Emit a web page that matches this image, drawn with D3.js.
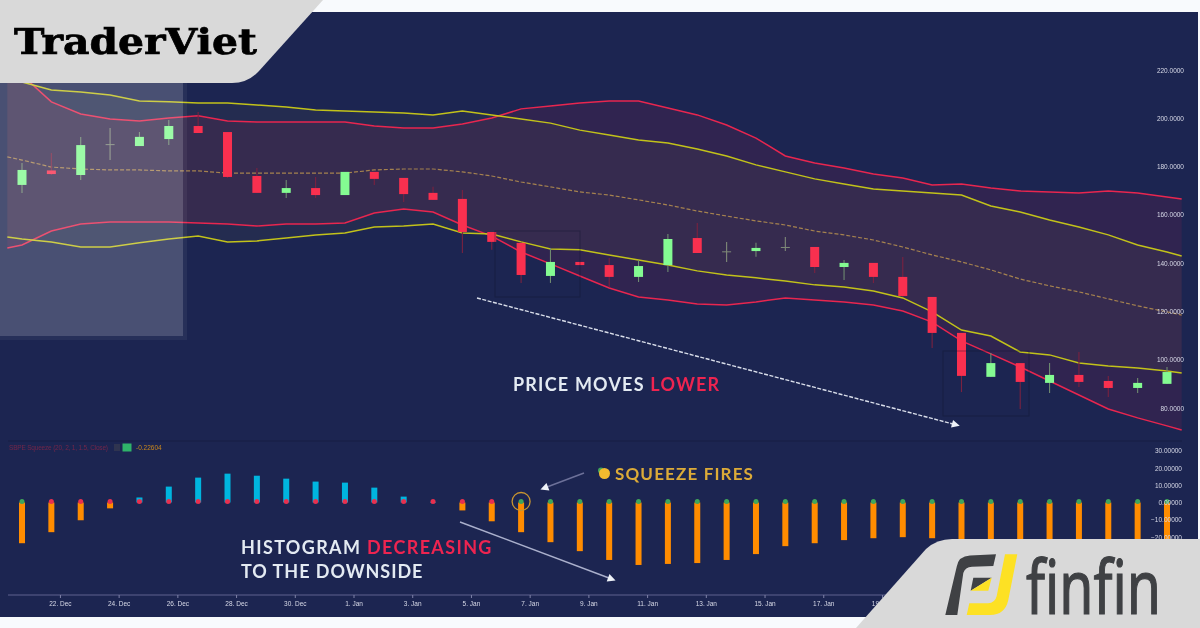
<!DOCTYPE html>
<html>
<head>
<meta charset="utf-8">
<script src="https://cdn.jsdelivr.net/npm/d3@7"></script>
<style>
  html, body { margin: 0; padding: 0; background: #f8fafd; overflow: hidden; }
  svg { display: block; }
  .soft { filter: blur(0.55px); }
  .softer { filter: blur(0.35px); }
  .note { font-family: Lato, "Open Sans", sans-serif; font-weight: 700; }
</style>
</head>
<body>
<svg id="chart" width="1200" height="628"></svg>
<script>
// Candles, one per day
const candleStart = "2020-12-20T17:00:00Z";
const opens = [172.4,178.4,176.5,188.9,188.5,191.4,196.8,194.3,176.1,169.1,171.1,168.2,177.8,175.3,169.1,166.6,152.9,148.4,134.7,140.5,139.2,134.3,139.2,150.4,144.6,145.0,146.5,146.7,138.4,140.1,134.3,126.0,111.1,92.9,98.6,90.4,93.7,91.2,88.3,90.0];
const highs = [181.5,185.6,192.3,196.0,194.3,199.3,202.6,194.3,179.4,174.4,175.7,177.8,177.8,175.3,171.6,170.3,152.9,148.4,146.3,140.5,142.1,141.3,152.1,156.6,148.8,148.4,150.8,146.7,141.3,140.1,142.5,126.0,111.1,102.8,98.6,98.6,103.2,93.3,92.4,97.0];
const lows = [169.1,176.5,174.4,182.7,188.5,188.9,193.9,175.3,169.1,167.0,167.0,168.2,172.4,165.3,166.2,144.2,145.5,131.8,131.8,139.2,130.1,132.2,136.3,144.2,140.5,142.6,145.0,135.9,133.0,131.8,126.0,104.9,86.6,92.9,79.6,86.2,88.7,84.6,86.2,90.0];
const closes = [178.6,176.9,188.9,189.3,192.3,196.8,193.9,175.7,169.1,171.1,168.2,177.8,174.9,168.6,166.2,152.9,148.8,135.1,140.5,139.2,134.3,138.8,150.0,144.2,144.9,146.3,146.7,138.4,140.1,134.3,126.4,111.1,93.3,98.6,90.8,93.7,90.8,88.3,90.4,94.9];

// Bands, read at half a day before the first candle, every candle, half a day after the last
const bbUpper = [223.3,217.9,206.8,201.8,199.7,198.9,200.1,201.0,198.9,198.5,198.5,198.5,198.5,196.8,196.0,196.0,197.6,200.1,203.9,205.1,206.3,207.2,207.2,204.3,201.4,197.2,191.8,184.4,181.5,179.4,176.9,175.3,172.4,172.8,171.1,169.9,169.5,169.1,169.9,169.1,167.4,166.6];
const bbLower = [146.3,147.5,153.3,156.2,157.0,157.0,157.0,156.6,156.2,155.4,156.2,156.2,156.6,160.8,162.4,161.2,155.8,151.2,144.6,139.7,134.7,129.7,126.0,124.7,123.1,122.7,123.9,125.6,124.7,123.9,122.7,120.2,115.6,107.8,102.4,97.0,91.2,85.4,79.6,75.9,72.6,70.9];
const kcUpper = [217.1,215.0,211.7,210.9,209.6,207.2,206.8,206.3,206.3,205.5,204.7,203.4,203.0,202.6,202.2,201.4,203.0,201.4,199.7,198.0,195.1,193.1,191.0,189.8,187.3,184.4,180.7,177.8,174.9,172.8,170.7,169.9,169.1,168.2,163.7,161.2,157.9,155.0,151.7,147.5,144.6,143.0];
const kcLower = [150.8,150.0,148.8,146.7,146.7,148.4,150.0,151.2,148.8,149.2,150.4,151.7,152.5,155.0,155.4,156.2,152.5,152.1,148.8,145.9,145.5,143.4,141.3,139.2,136.8,135.1,133.9,132.6,131.0,130.1,128.5,125.6,119.8,112.3,109.8,103.2,102.0,98.6,97.4,96.6,95.3,94.5];
const basis = [184.0,182.7,179.8,179.0,178.6,178.6,178.2,178.2,177.3,177.3,177.3,177.3,177.3,178.6,179.0,179.0,177.8,176.1,173.6,171.6,169.5,168.2,166.2,164.1,161.6,159.5,157.5,155.8,153.3,151.7,149.6,146.7,143.4,140.5,137.2,133.4,130.6,128.1,125.2,122.3,119.8,118.5];

// Squeeze histogram and on/off dots (1 = fired, green)
const histogram = [-23.6,-17.2,-10.3,-3.4,2.9,9.2,14.4,16.7,15.5,13.8,12.1,11.5,8.6,3.4,0.3,-4.6,-10.9,-17.2,-23.0,-28.2,-33.3,-36.2,-35.6,-35.1,-33.3,-29.9,-25.3,-23.6,-21.8,-20.7,-20.1,-20.7,-22,-22,-23,-24,-24,-25,-25,-25];
const squeezeFired = [1,0,0,0,0,0,0,0,0,0,0,0,0,0,0,0,0,1,1,1,1,1,1,1,1,1,1,1,1,1,1,1,1,1,1,1,1,1,1,1];

const priceTicks = [220,200,180,160,140,120,100,80];
const histTicks = [30,20,10,0,-10,-20];
const dateTicks = ["2020-12-22","2020-12-24","2020-12-26","2020-12-28","2020-12-30","2021-01-01","2021-01-03","2021-01-05","2021-01-07","2021-01-09","2021-01-11","2021-01-13","2021-01-15","2021-01-17","2021-01-19"];

const dayMs = 864e5;
const t0 = new Date(candleStart).getTime();
const timeAt = d => new Date(t0 + d * dayMs);

const x = d3.scaleUtc().domain([timeAt(0), timeAt(39)]).range([22, 1167]);
const y = d3.scaleLinear().domain([220, 80]).range([70, 408]);
const yHist = d3.scaleLinear().domain([30, -20]).range([450.7, 537]);

const svg = d3.select("#chart");

// Panel
svg.append("rect").attr("x", 0).attr("y", 12).attr("width", 1198).attr("height", 605).attr("fill", "#1c2551");

const chart = svg.append("g").attr("class", "soft");

// Bands
const bandDays = [-0.5].concat(d3.range(40), [39.5]);
const bandX = i => x(timeAt(bandDays[i]));

const bandArea = (top, bottom) => d3.area()
  .x((d, i) => bandX(i))
  .y0((d, i) => y(bottom[i]))
  .y1((d, i) => y(top[i]));
const bandLine = d3.line().x((d, i) => bandX(i)).y(d => y(d));

chart.append("path").attr("d", bandArea(bbUpper, bbLower)(bandDays))
  .attr("fill", "#e0204f").attr("opacity", 0.1);
chart.append("path").attr("d", bandArea(kcUpper, kcLower)(bandDays))
  .attr("fill", "#b8b840").attr("opacity", 0.055);

[bbUpper, bbLower].forEach(s => chart.append("path").attr("d", bandLine(s))
  .attr("fill", "none").attr("stroke", "#e8264f").attr("stroke-width", 1.5));
[kcUpper, kcLower].forEach(s => chart.append("path").attr("d", bandLine(s))
  .attr("fill", "none").attr("stroke", "#c2c21a").attr("stroke-width", 1.5));
chart.append("path").attr("d", bandLine(basis))
  .attr("fill", "none").attr("stroke", "#a5824f").attr("stroke-width", 1.2).attr("stroke-dasharray", "4 2");

// Candles
const candleWidth = 9;
const isDoji = i => Math.abs(closes[i] - opens[i]) < 0.5;
const candles = chart.append("g").selectAll("g")
  .data(d3.range(opens.length))
  .join("g");

candles.append("line")
  .attr("x1", i => x(timeAt(i))).attr("x2", i => x(timeAt(i)))
  .attr("y1", i => y(highs[i])).attr("y2", i => y(lows[i]))
  .attr("stroke", i => isDoji(i) ? "#7f8a78" : closes[i] >= opens[i] ? "#6f8a70" : "#7a2240")
  .attr("stroke-width", 1.1);

candles.append("rect")
  .attr("x", i => x(timeAt(i)) - candleWidth / 2)
  .attr("width", candleWidth)
  .attr("y", i => y(Math.max(opens[i], closes[i])))
  .attr("height", i => Math.max(1, Math.abs(y(opens[i]) - y(closes[i]))))
  .attr("fill", i => isDoji(i) ? "#7f8a78" : closes[i] >= opens[i] ? "#84fb92" : "#f9304f");

// Selection boxes on the chart
[[495, 231, 85, 66], [943, 351, 86, 65]].forEach(b => chart.append("rect")
  .attr("x", b[0]).attr("y", b[1]).attr("width", b[2]).attr("height", b[3])
  .attr("fill", "none").attr("stroke", "#10152f").attr("stroke-opacity", 0.4));

// Price axis
const priceAxis = chart.append("g").attr("transform", "translate(1184,0)")
  .call(d3.axisLeft(y).tickValues(priceTicks).tickFormat(d3.format(".4f")).tickSize(0).tickPadding(0));
priceAxis.select(".domain").remove();

// Divider above the histogram
chart.append("line").attr("x1", 8).attr("x2", 1182).attr("y1", 441).attr("y2", 441)
  .attr("stroke", "#141a3d").attr("stroke-width", 1.2).attr("stroke-opacity", 0.6);

// Histogram
chart.append("g").selectAll("rect")
  .data(histogram)
  .join("rect")
  .attr("x", (d, i) => x(timeAt(i)) - 3)
  .attr("width", 6)
  .attr("y", d => Math.min(yHist(d), yHist(0)))
  .attr("height", d => Math.abs(yHist(d) - yHist(0)))
  .attr("fill", d => d >= 0 ? "#00b5df" : "#ff8c00");

chart.append("g").selectAll("circle")
  .data(squeezeFired)
  .join("circle")
  .attr("cx", (d, i) => x(timeAt(i)))
  .attr("cy", yHist(0) - 1)
  .attr("r", 2.5)
  .attr("fill", d => d ? "#3fa65a" : "#e8304f");

const histAxis = chart.append("g").attr("transform", "translate(1182,0)")
  .call(d3.axisLeft(yHist).tickValues(histTicks).tickFormat(d3.format(".5f")).tickSize(0).tickPadding(0));
histAxis.select(".domain").remove();

// Time axis
const timeAxis = chart.append("g").attr("transform", "translate(0,595)")
  .call(d3.axisBottom(x).tickValues(dateTicks.map(d => new Date(d)))
    .tickFormat(d3.utcFormat("%-d. %b")).tickSize(3).tickPadding(3));
timeAxis.select(".domain").attr("d", "M8,0H1182").attr("stroke", "#5f628f");
timeAxis.selectAll(".tick line").attr("stroke", "#7f82a8");

chart.selectAll(".tick text")
  .attr("fill", "#d8dae8").attr("font-size", 6.5).attr("font-family", "Liberation Sans, sans-serif");

// Indicator legend
const legend = chart.append("g").attr("font-family", "Liberation Sans, sans-serif").attr("font-size", 6.5);
legend.append("text").attr("x", 9).attr("y", 449.5).attr("textLength", 99).attr("fill", "#73264a").text("SBPE Squeeze (20, 2, 1, 1.5, Close)");
legend.append("rect").attr("x", 114).attr("y", 444).attr("width", 6).attr("height", 7).attr("fill", "#2f3450");
legend.append("rect").attr("x", 122.5).attr("y", 443.5).attr("width", 9).attr("height", 8).attr("fill", "#2fb36a");
legend.append("text").attr("x", 136).attr("y", 449.5).attr("fill", "#c9871c").text("-0.22604");

// Overlay on the first candles
svg.append("rect").attr("x", 0).attr("y", 12).attr("width", 187).attr("height", 328).attr("fill", "#fff").attr("opacity", 0.05);
svg.append("rect").attr("x", 0).attr("y", 12).attr("width", 183).attr("height", 324).attr("fill", "#fff").attr("opacity", 0.16);

// Annotations
const notes = svg.append("g").attr("class", "softer");
const arrow = (x1, y1, x2, y2, dash, col) => {
  const a = Math.atan2(y2 - y1, x2 - x1);
  notes.append("line").attr("x1", x1).attr("y1", y1).attr("x2", x2).attr("y2", y2)
    .attr("stroke", col).attr("stroke-width", 1.4).attr("stroke-dasharray", dash);
  const head = [[7, 0], [-1, 4], [-1, -4]].map(p => [
    x2 + p[0] * Math.cos(a) - p[1] * Math.sin(a),
    y2 + p[0] * Math.sin(a) + p[1] * Math.cos(a)
  ]);
  notes.append("path").attr("d", d3.line()(head) + "Z").attr("fill", "#eef2f8");
};
arrow(477, 298, 953, 424, "4 1.5", "#d9deea");
arrow(460, 522, 609, 578, null, "#aab0cc");
arrow(584, 473, 547, 487, null, "#6d7199");

notes.append("circle").attr("cx", x(timeAt(17))).attr("cy", yHist(0) - 1).attr("r", 9)
  .attr("fill", "none").attr("stroke", "#c9952f").attr("stroke-width", 1.3);
notes.append("circle").attr("cx", 601).attr("cy", 470.5).attr("r", 3).attr("fill", "#3fa65a");
notes.append("circle").attr("cx", 604.5).attr("cy", 473.5).attr("r", 5.5).attr("fill", "#f2b92f");

const addText = (px, py, size, spacing, parts) => {
  const t = notes.append("text").attr("class", "note").attr("x", px).attr("y", py)
    .attr("font-size", size).attr("letter-spacing", spacing);
  parts.forEach(p => t.append("tspan").attr("fill", p[1]).text(p[0]));
};
addText(513, 391, 18, 1.2, [["PRICE MOVES ", "#e3eaf2"], ["LOWER", "#ee2450"]]);
addText(615, 480, 17, 1.15, [["SQUEEZE FIRES", "#dcab38"]]);
addText(241, 554, 18, 1.35, [["HISTOGRAM ", "#e3eaf2"], ["DECREASING", "#ee2450"]]);
addText(241, 578, 18, 0.95, [["TO THE DOWNSIDE", "#e3eaf2"]]);

// TraderViet badge
svg.append("path").attr("fill", "#d9d9d9")
  .attr("d", "M0,0H323L259,71Q248,83 232,83H0Z");
svg.append("text").attr("x", 14).attr("y", 54)
  .attr("font-family", "DejaVu Serif, serif").attr("font-weight", 700).attr("font-size", 35)
  .attr("textLength", 243).attr("lengthAdjust", "spacingAndGlyphs")
  .attr("fill", "#000").attr("stroke", "#000").attr("stroke-width", 0.7).text("TraderViet");

// finfin badge
svg.append("path").attr("fill", "#d9d9d9")
  .attr("d", "M1200,539H952Q937,539 926,549L856,628H1200Z");
svg.append("path").attr("fill", "#3f4144")
  .attr("d", "M945.3,615L956.7,566.7Q958.5,556 970,555.5L996,554.3L993.3,566L972,566.7Q965,567 963.3,573L957.3,615Z");
svg.append("path").attr("fill", "#3f4144").attr("d", "M973.3,577.7H991.7L970.7,590.7Z");
svg.append("path").attr("fill", "#fde124").attr("d", "M991.7,577.7L988.3,590.7H970.7Z");
svg.append("path").attr("fill", "#fde124")
  .attr("d", "M1005,554.3H1017.3L1008.3,600Q1005,615 990,615H966.7L969.3,603.3H988Q995,603 996.7,596Z");
svg.append("text").attr("x", 1026).attr("y", 614)
  .attr("font-family", "Noto Sans, sans-serif").attr("font-weight", 400).attr("font-size", 75)
  .attr("textLength", 135).attr("lengthAdjust", "spacingAndGlyphs")
  .attr("fill", "#3f4144").attr("stroke", "#3f4144").attr("stroke-width", 1.2).text("finfin");
</script>
</body>
</html>
